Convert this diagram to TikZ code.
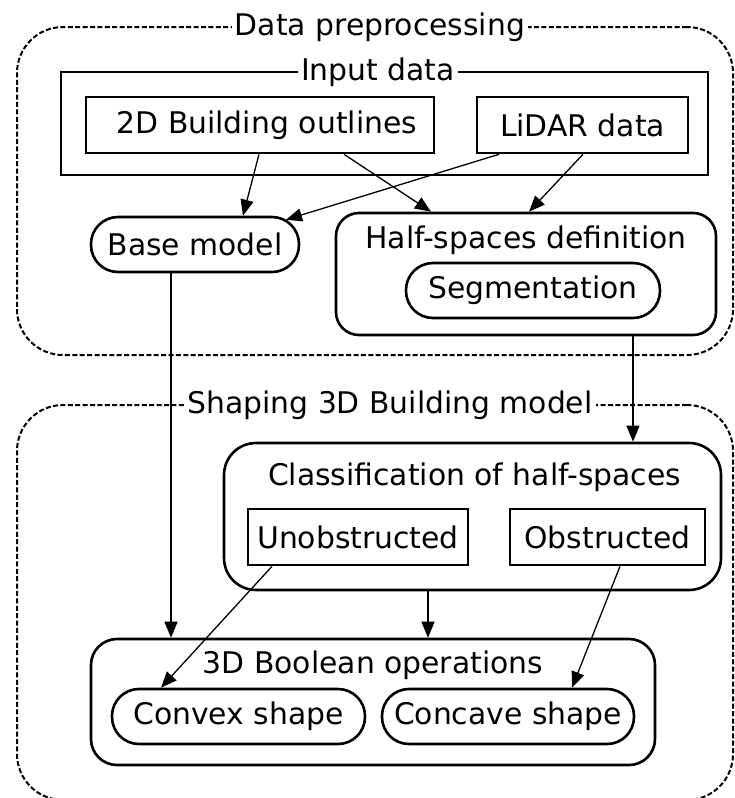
\documentclass[tikz,border=0pt]{standalone}
\usepackage{fontspec}
\setmainfont{DejaVu Sans}
\usetikzlibrary{arrows.meta}
\begin{document}
\begin{tikzpicture}[x=0.5pt, y=-0.5pt,
    every node/.style={font=\fontsize{14.9}{18}\selectfont},
    region/.style={draw, line width=1pt, dash pattern=on 2.5pt off 1.2pt, rounded corners=23pt},
    title/.style={fill=white, inner xsep=1.5pt, inner ysep=0pt},
    sqbox/.style={draw, line width=1.3pt, inner sep=0pt, minimum height=28pt},
    pill/.style={draw, line width=1.3pt, inner sep=0pt, rounded corners=13.5pt, minimum height=27.5pt},
    group/.style={draw, line width=1.3pt, inner sep=0pt, rounded corners=#1},
    arr/.style={-{Triangle[length=8pt,width=6.5pt]}, line width=0.65pt}]
  \useasboundingbox (0,0) rectangle (734,798);
  \node[region, minimum width=358pt, minimum height=164pt] (prep) at (375,191) {};
  \node[title] (preptitle) at (380,27) {Data preprocessing};
  \node[region, minimum width=358pt, minimum height=197.5pt] (shaping) at (375,602.5) {};
  \node[title] (shapingtitle) at (390,405) {Shaping 3D Building model};
  \node[group=0pt, minimum width=323.5pt, minimum height=51.5pt] (input) at (384.5,123.5) {};
  \node[title] (inputtitle) at (378,72) {Input data};
  \node[sqbox, minimum width=174pt, text width=157pt, align=right] (outlines) at (260,125) {2D Building outlines};
  \node[sqbox, minimum width=105.5pt] (lidar) at (582.5,125) {LiDAR data};
  \node[pill, minimum width=104pt] (base) at (195,244.5) {Base model};
  \node[group=11.5pt, minimum width=190pt, minimum height=61pt] (halfsp) at (526,274) {};
  \node (halfsptitle) at (526,240) {Half-spaces definition};
  \node[pill, minimum width=127pt] (segm) at (533,290.5) {Segmentation};
  \node[group=16pt, minimum width=248.5pt, minimum height=73.5pt] (classif) at (472.5,516.5) {};
  \node (classiftitle) at (474.5,477) {Classification of half-spaces};
  \node[sqbox, minimum width=110pt] (unobs) at (358,537) {Unobstructed};
  \node[sqbox, minimum width=97.5pt] (obs) at (607.5,537) {Obstructed};
  \node[group=13pt, minimum width=282pt, minimum height=63pt] (bool) at (373,702) {};
  \node (booltitle) at (373,665) {3D Boolean operations};
  \node[pill, minimum width=126.5pt] (convex) at (238.5,716.5) {Convex shape};
  \node[pill, minimum width=126pt] (concave) at (508,716.5) {Concave shape};
  \draw[arr] ([xshift=-0.5pt]outlines.south) -- ([xshift=24pt]base.north);
  \draw[arr] ([xshift=42pt]outlines.south) -- ([xshift=-47.5pt]halfsp.north);
  \draw[arr] ([xshift=-41.75pt]lidar.south) -- ([xshift=45.5pt,yshift=-2pt]base.north);
  \draw[arr] ([xshift=0.25pt]lidar.south) -- ([xshift=1.5pt]halfsp.north);
  \draw[arr] ([xshift=-12pt]base.south) -- ([xshift=-12pt]base.south |- bool.north);
  \draw[arr] ([xshift=53.5pt]halfsp.south) -- ([xshift=53.5pt]halfsp.south |- classif.north);
  \draw[arr] ([xshift=-22.25pt]classif.south) -- ([xshift=-22.25pt]classif.south |- bool.north);
  \draw[arr] ([xshift=-43pt]unobs.south) -- ([xshift=-38.75pt]convex.north);
  \draw[arr] ([xshift=6.25pt]obs.south) -- ([xshift=32pt]concave.north);
\end{tikzpicture}
\end{document}
